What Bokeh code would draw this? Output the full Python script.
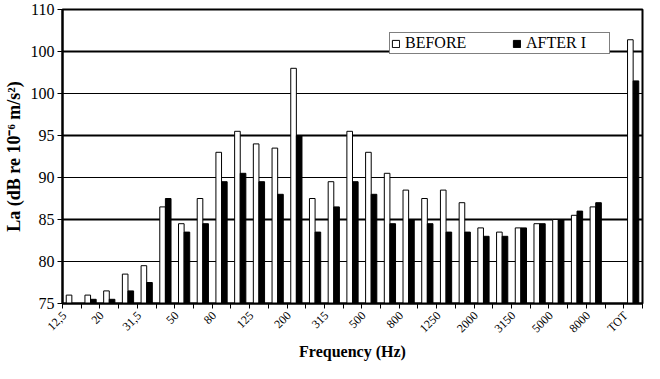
import numpy as np
from bokeh.plotting import figure
from bokeh.models import FixedTicker, Range1d, Legend, LegendItem, Grid, ColumnDataSource
from bokeh.embed import file_html
from bokeh.resources import INLINE

bands = ["12,5", "16", "20", "25", "31,5", "40", "50", "63", "80", "100", "125", "160",
         "200", "250", "315", "400", "500", "630", "800", "1000", "1250", "1600", "2000",
         "2500", "3150", "4000", "5000", "6300", "8000", "", "TOT"]
before = [76, 76, 76.5, 78.5, 79.5, 86.5, 84.5, 87.5, 93, 95.5, 94, 93.5, 103, 87.5, 89.5,
          95.5, 93, 90.5, 88.5, 87.5, 88.5, 87, 84, 83.5, 84, 84.5, 85, 85.5, 86.5, np.nan, 106.4]
after = [75, 75.5, 75.5, 76.5, 77.5, 87.5, 83.5, 84.5, 89.5, 90.5, 89.5, 88, 95, 83.5, 86.5,
         89.5, 88, 84.5, 85, 84.5, 83.5, 83.5, 83, 83, 84, 84.5, 85, 86, 87, np.nan, 101.5]
y_ticks = [75, 80, 85, 90, 95, 100, 105, 110]
y_labels = {75: "75", 80: "80", 85: "85", 90: "90", 95: "95", 100: "100", 105: "100", 110: "110"}

n = len(bands)
centers = [i + 0.5 for i in range(n)]
src = ColumnDataSource(dict(xb=[c - 0.15 for c in centers], xa=[c + 0.15 for c in centers],
                            before=before, after=after))

p = figure(width=644, height=363, output_backend="svg", toolbar_location=None,
           x_range=Range1d(0, n), y_range=Range1d(75, 110),
           min_border_left=60, min_border_right=2, min_border_top=9, min_border_bottom=57)
p.background_fill_color = "white"
p.border_fill_color = "white"
p.outline_line_color = "black"
p.outline_line_width = 2

p.xgrid.visible = False
p.ygrid.visible = False
g1 = Grid(dimension=1, ticker=FixedTicker(ticks=[85, 95, 105]), grid_line_color="black", grid_line_width=2)
g2 = Grid(dimension=1, ticker=FixedTicker(ticks=[80, 90, 100]), grid_line_color="black", grid_line_width=1.2)
p.add_layout(g1)
p.add_layout(g2)

rb = p.vbar(x="xb", width=0.3, top="before", bottom=75, source=src,
            fill_color="white", line_color="black", line_width=1)
ra = p.vbar(x="xa", width=0.3, top="after", bottom=75, source=src,
            fill_color="black", line_color="black", line_width=1)

serif = "Liberation Serif"
# y axis
p.yaxis.ticker = FixedTicker(ticks=y_ticks)
p.yaxis.major_label_overrides = y_labels
p.yaxis.major_label_text_font = serif
p.yaxis.major_label_text_font_size = "16px"
p.yaxis.major_label_text_color = "black"
p.yaxis.axis_line_color = "black"
p.yaxis.axis_line_width = 2
p.yaxis.major_tick_out = 5
p.yaxis.major_tick_in = 0
p.yaxis.major_label_standoff = 3
p.yaxis.minor_tick_line_color = None
p.yaxis.axis_label = "La (dB re 10\u207b\u2076 m/s\u00b2)"
p.yaxis.axis_label_text_font = serif
p.yaxis.axis_label_text_font_style = "bold"
p.yaxis.axis_label_text_font_size = "18px"
p.yaxis.axis_label_text_color = "black"
p.yaxis.axis_label_standoff = 4

# x axis
label_pos = [centers[i] - 0.4 for i in range(0, n, 2)]
p.xaxis.ticker = FixedTicker(ticks=label_pos, minor_ticks=list(range(n + 1)))
p.xaxis.major_label_overrides = {centers[i] - 0.4: bands[i] for i in range(0, n, 2)}
p.xaxis.major_tick_line_color = None
p.xaxis.major_tick_out = 5
p.xaxis.minor_tick_line_color = "black"
p.xaxis.minor_tick_out = 5
p.xaxis.minor_tick_in = 0
p.xaxis.axis_line_color = "black"
p.xaxis.axis_line_width = 2
p.xaxis.major_label_orientation = np.pi / 4
p.xaxis.major_label_standoff = 5
p.xaxis.major_label_text_font = serif
p.xaxis.major_label_text_font_size = "12px"
p.xaxis.major_label_text_color = "black"
p.xaxis.axis_label = "Frequency (Hz)"
p.xaxis.axis_label_text_font = serif
p.xaxis.axis_label_text_font_style = "bold"
p.xaxis.axis_label_text_font_size = "16px"
p.xaxis.axis_label_text_color = "black"
p.xaxis.axis_label_standoff = 0

legend = Legend(items=[LegendItem(label="BEFORE", renderers=[rb]),
                       LegendItem(label="AFTER I", renderers=[ra])],
                orientation="horizontal", location=(327, 249))
legend.border_line_color = "black"
legend.border_line_width = 1
legend.background_fill_color = "white"
legend.background_fill_alpha = 1
legend.label_text_font = serif
legend.label_text_font_size = "16px"
legend.label_text_color = "black"
legend.label_text_baseline = "middle"
legend.glyph_width = 9
legend.glyph_height = 9
legend.label_height = 15
legend.label_width = 82
legend.padding = 1
legend.spacing = 25
legend.margin = 0
legend.label_standoff = 5
p.add_layout(legend, "center")

open("out.html", "w").write(file_html(p, INLINE))
